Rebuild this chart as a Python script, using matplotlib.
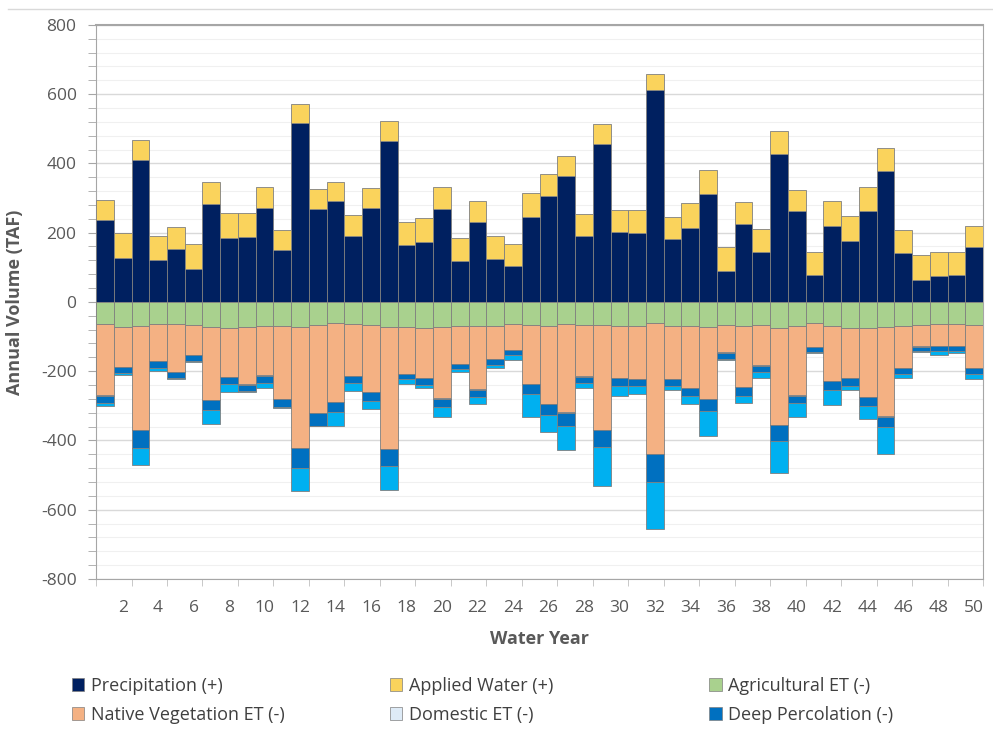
import numpy as np
import matplotlib.pyplot as plt
from matplotlib.ticker import MultipleLocator
from matplotlib.patches import Patch
from matplotlib.lines import Line2D

plt.rcParams['font.family'] = ['Open Sans', 'DejaVu Sans']
plt.rcParams['axes.unicode_minus'] = False

years = np.arange(1, 51)

# inflows (TAF)
precip = [237, 127, 410, 122, 152, 96, 283, 185, 188, 271,
          149, 518, 269, 292, 190, 271, 465, 165, 172, 267,
          119, 231, 124, 104, 246, 306, 364, 191, 455, 201,
          198, 612, 181, 214, 313, 90, 226, 145, 426, 262,
          79, 218, 175, 262, 378, 140, 64, 74, 77, 158]
applied = [58, 71, 58, 69, 65, 72, 62, 71, 68, 60,
           60, 54, 56, 53, 60, 58, 56, 66, 69, 64,
           65, 60, 67, 64, 68, 64, 56, 63, 59, 64,
           67, 46, 63, 72, 69, 68, 62, 66, 68, 61,
           66, 73, 72, 69, 65, 69, 71, 71, 66, 61]

# outflows (TAF, plotted negative)
ag_et = [65, 72, 69, 65, 65, 68, 73, 75, 72, 69,
         71, 73, 67, 62, 63, 67, 72, 72, 75, 72,
         69, 69, 69, 63, 67, 69, 65, 67, 67, 69,
         70, 62, 69, 70, 73, 67, 70, 67, 75, 69,
         62, 70, 75, 75, 73, 70, 67, 65, 65, 67]
native_et = [205, 115, 300, 106, 136, 84, 210, 142, 166, 143,
             209, 349, 254, 227, 150, 193, 352, 135, 144, 206,
             109, 183, 95, 76, 169, 225, 254, 148, 303, 150,
             152, 377, 154, 179, 207, 79, 176, 116, 280, 201,
             67, 157, 145, 200, 257, 120, 61, 62, 62, 124]
domestic_et = [1] * 50
deep_perc = [20, 18, 52, 18, 19, 17, 27, 20, 17, 22,
             23, 58, 35, 28, 19, 25, 48, 15, 19, 24,
             16, 23, 16, 14, 29, 32, 39, 17, 49, 23,
             20, 81, 19, 21, 33, 17, 24, 17, 47, 21,
             14, 26, 22, 25, 31, 17, 13, 13, 13, 16]
runoff = [9, 4, 49, 10, 3, 4, 41, 23, 3, 15,
          3, 66, 2, 40, 23, 22, 71, 15, 9, 29,
          6, 18, 9, 15, 66, 49, 69, 15, 111, 29,
          23, 136, 11, 25, 73, 4, 22, 18, 91, 40,
          3, 45, 10, 36, 78, 12, 2, 12, 6, 16]

pos_series = [
    (precip, "#002060", "Precipitation (+)"),
    (applied, "#FAD35C", "Applied Water (+)"),
]
neg_series = [
    (ag_et, "#A9D18E", "Agricultural ET (-)"),
    (native_et, "#F4B183", "Native Vegetation ET (-)"),
    (domestic_et, "#DEEBF7", "Domestic ET (-)"),
    (deep_perc, "#0070C0", "Deep Percolation (-)"),
    (runoff, "#00B0F0", None),
]

fig = plt.figure(figsize=(9.93, 7.31), dpi=100)
ax = fig.add_axes([0.0967, 0.208, 0.8933, 0.758])

edge = dict(edgecolor="#7F7F7F", linewidth=0.6, width=1.0, zorder=3)

bottom = np.zeros(50)
for vals, col, lab in pos_series:
    v = np.array(vals, dtype=float)
    ax.bar(years, v, bottom=bottom, color=col, **edge)
    bottom += v

bottom = np.zeros(50)
for vals, col, lab in neg_series:
    v = -np.array(vals, dtype=float)
    ax.bar(years, v, bottom=bottom, color=col, **edge)
    bottom += v

ax.set_xlim(0.5, 50.5)
ax.set_ylim(-800, 800)
ax.yaxis.set_major_locator(MultipleLocator(200))
ax.yaxis.set_minor_locator(MultipleLocator(40))
ax.grid(which="major", axis="y", color="#D9D9D9", linewidth=1.0, zorder=0)
ax.grid(which="minor", axis="y", color="#F0F0F0", linewidth=0.8, zorder=0)
ax.set_axisbelow(True)

# category labels every other year, tick marks on category boundaries
ax.set_xticks(np.arange(2, 51, 2))
ax.set_xticklabels([str(y) for y in range(2, 51, 2)])
ax.tick_params(axis="x", which="major", length=0, pad=15)
ax.set_xticks(np.arange(0.5, 51, 2), minor=True)
ax.tick_params(axis="x", which="minor", length=5, color="#BFBFBF", direction="out")

ax.tick_params(axis="y", which="both", length=6, color="#A6A6A6", direction="out", pad=8)
ax.tick_params(axis="both", labelsize=12.5, labelcolor="#595959")

for side in ["left", "bottom", "right", "top"]:
    ax.spines[side].set_color("#A6A6A6")
ax.spines["top"].set_linewidth(1.5)

ax.set_ylabel("Annual Volume (TAF)", fontsize=13, fontweight="bold", color="#595959", labelpad=12)
ax.set_xlabel("Water Year", fontsize=13, fontweight="bold", color="#595959", labelpad=10)

# outer chart border line
fig.add_artist(Line2D([0.008, 1.0], [0.988, 0.988], color="#D9D9D9", linewidth=1.0))

handles = []
for vals, col, lab in pos_series + neg_series:
    if lab:
        handles.append(Patch(facecolor=col, edgecolor="#7F7F7F", linewidth=0.5, label=lab))

# three legend columns, two entries each
columns = [(0.056, [0, 3]), (0.376, [1, 4]), (0.698, [2, 5])]
for x0, idx in columns:
    leg = fig.legend([handles[i] for i in idx], [handles[i].get_label() for i in idx],
                     loc="lower left", bbox_to_anchor=(x0, -0.012), ncol=1, frameon=False,
                     fontsize=13, handlelength=0.7, handleheight=0.7, handletextpad=0.35,
                     labelspacing=0.6)
    for t in leg.get_texts():
        t.set_color("#404040")

fig.savefig("out.png", dpi=100)
